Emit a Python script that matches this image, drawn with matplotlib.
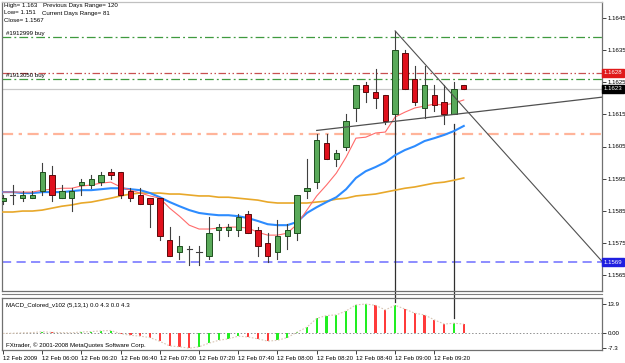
import matplotlib
matplotlib.use('Agg')
import matplotlib.pyplot as plt
import matplotlib.transforms as mtransforms
from matplotlib.patches import Rectangle
import numpy as np

# EURUSD M5, 12 Feb 2009, bar 0 = 05:40
opens = [1.1588, 1.1590, 1.1589, 1.1589, 1.1591, 1.1596, 1.1589, 1.1589, 1.1593, 1.1593,
         1.1594, 1.1597, 1.1597, 1.1591, 1.1590, 1.1589, 1.1589, 1.1576, 1.1572, 1.1573,
         1.1572, 1.1571, 1.1579, 1.1579, 1.1579, 1.1584, 1.1579, 1.1575, 1.1572, 1.1577,
         1.1578, 1.1591, 1.1594, 1.1606, 1.1601, 1.1605, 1.1617, 1.1624, 1.1622, 1.1621,
         1.1615, 1.1634, 1.1626, 1.1617, 1.1621, 1.1619, 1.1615, 1.1624]
highs = [1.1590, 1.1593, 1.1591, 1.1591, 1.1600, 1.1599, 1.1593, 1.1592, 1.1595, 1.1596,
         1.1597, 1.1598, 1.1597, 1.1592, 1.1592, 1.1589, 1.1589, 1.1580, 1.1577, 1.1574,
         1.1574, 1.1583, 1.1581, 1.1581, 1.1584, 1.1585, 1.1580, 1.1578, 1.1582, 1.1581,
         1.1590, 1.1601, 1.1609, 1.1609, 1.1604, 1.1615, 1.1624, 1.1625, 1.1629, 1.1621,
         1.1641, 1.1635, 1.1630, 1.1630, 1.1624, 1.1624, 1.1625, 1.1624]
lows = [1.1587, 1.1587, 1.1588, 1.1589, 1.1590, 1.1588, 1.1589, 1.1585, 1.1590, 1.1592,
        1.1593, 1.1595, 1.1589, 1.1588, 1.1587, 1.1580, 1.1576, 1.1571, 1.1570, 1.1568,
        1.1568, 1.1570, 1.1576, 1.1577, 1.1577, 1.1578, 1.1571, 1.1569, 1.1570, 1.1573,
        1.1576, 1.1589, 1.1592, 1.1601, 1.1599, 1.1604, 1.1613, 1.1619, 1.1617, 1.1612,
        1.1613, 1.1623, 1.1618, 1.1614, 1.1616, 1.1612, 1.1615, 1.1623]
closes = [1.1589, 1.1590, 1.1590, 1.1590, 1.1597, 1.1590, 1.1591, 1.1591, 1.1594, 1.1595,
          1.1596, 1.1596, 1.1590, 1.1589, 1.1587, 1.1587, 1.1577, 1.1571, 1.1574, 1.1573,
          1.1572, 1.1578, 1.1580, 1.1580, 1.1583, 1.1578, 1.1574, 1.1571, 1.1577, 1.1579,
          1.1590, 1.1592, 1.1607, 1.1601, 1.1603, 1.1613, 1.1624, 1.1622, 1.1620, 1.1613,
          1.1635, 1.1623, 1.1619, 1.1624, 1.1618, 1.1615, 1.1623, 1.1623]

# moving averages
ma_red = [1.15908, 1.15908, 1.15908, 1.15908, 1.15914, 1.15917, 1.15920, 1.15920, 1.15927, 1.15930,
          1.15936, 1.15939, 1.15924, 1.15914, 1.15905, 1.15896, 1.15889, 1.15858, 1.15833, 1.15805,
          1.15793, 1.15793, 1.15796, 1.15799, 1.15799, 1.15796, 1.15783, 1.15774, 1.15774, 1.15780,
          1.15808, 1.15852, 1.15896, 1.15930, 1.15967, 1.16017, 1.16076, 1.16079, 1.16092, 1.16095,
          1.16142, 1.16157, 1.16170, 1.16176, 1.16182, 1.16179, 1.16185, 1.16195]
ma_blue = [1.15908, 1.15908, 1.15905, 1.15905, 1.15908, 1.15908, 1.15908, 1.15911, 1.15914, 1.15914,
           1.15917, 1.15920, 1.15920, 1.15917, 1.15914, 1.15905, 1.15892, 1.15877, 1.15864, 1.15852,
           1.15843, 1.15839, 1.15836, 1.15836, 1.15833, 1.15827, 1.15818, 1.15808, 1.15805, 1.15805,
           1.15815, 1.15843, 1.15861, 1.15877, 1.15892, 1.15917, 1.15952, 1.15973, 1.15986, 1.16001,
           1.16023, 1.16039, 1.16051, 1.16067, 1.16076, 1.16086, 1.16098, 1.16114]
ma_orange = [1.15846, 1.15846, 1.15849, 1.15849, 1.15852, 1.15858, 1.15864, 1.15868, 1.15874, 1.15877,
             1.15883, 1.15889, 1.15896, 1.15902, 1.15905, 1.15905, 1.15905, 1.15902, 1.15902, 1.15899,
             1.15896, 1.15896, 1.15892, 1.15892, 1.15889, 1.15886, 1.15883, 1.15877, 1.15874, 1.15874,
             1.15874, 1.15874, 1.15877, 1.15880, 1.15886, 1.15889, 1.15896, 1.15899, 1.15902, 1.15908,
             1.15914, 1.15920, 1.15924, 1.15930, 1.15936, 1.15939, 1.15945, 1.15952]

# MACD_Colored histogram
macd = [-0.2, -0.1, 0.1, 0.2, 0.6, 0.3, 0.2, 0.1, 0.5, 0.7,
        1.0, 1.2, -0.3, -1.1, -1.5, -2.2, -4.0, -6.2, -6.6, -7.3,
        -6.6, -4.9, -3.5, -2.8, -1.5, -1.9, -2.8, -3.9, -3.5, -2.2,
        0.4, 2.8, 7.0, 8.4, 8.7, 10.6, 13.5, 13.9, 13.3, 11.1,
        13.3, 11.5, 9.5, 8.7, 6.3, 4.3, 4.7, 4.3]

date_pos = [0, 4, 8, 12, 16, 20, 24, 28, 32, 36, 40, 44]
date_labels = ['12 Feb 2009', '12 Feb 06:00', '12 Feb 06:20', '12 Feb 06:40',
               '12 Feb 07:00', '12 Feb 07:20', '12 Feb 07:40', '12 Feb 08:00',
               '12 Feb 08:20', '12 Feb 08:40', '12 Feb 09:00', '12 Feb 09:20']
price_ticks = [1.1645, 1.1635, 1.1625, 1.1615, 1.1605, 1.1595, 1.1585, 1.1575, 1.1565]
macd_ticks = [13.9, 0.0, -7.3]

buy1 = 1.1639
buy2 = 1.1626
ask = 1.1628
bid = 1.1623
stop_lvl = 1.1609
low_lvl = 1.1569
vlines_at = [40, 46]
trend_down = [(40, 1.1641), (61.2, 1.15689)]
trend_up = [(32, 1.1610), (61.2, 1.16204)]

plt.rcParams['font.family'] = ['Liberation Sans', 'DejaVu Sans']
fs = 4.4

W, H = 625, 363
fig = plt.figure(figsize=(W / 100, H / 100), dpi=100)
fig.patch.set_facecolor('white')
ax = fig.add_axes([2 / W, 1 - 291 / H, 600 / W, 289 / H])
ax2 = fig.add_axes([2 / W, 1 - 350 / H, 600 / W, 52 / H])
ax2.set_facecolor('none')

n = len(opens)
idx = np.arange(n)
bw = 0.55

# horizontal levels
ax.axhline(buy1, color='#3f9a3f', lw=0.9, dashes=(7, 2.5, 1.5, 2.5), zorder=1)
ax.axhline(buy2, color='#3f9a3f', lw=0.9, dashes=(7, 2.5, 1.5, 2.5), zorder=1)
ax.axhline(ask, color='#c85050', lw=0.9, dashes=(6, 2, 1.2, 2, 1.2, 2), zorder=1)
ax.axhline(bid, color='#c8c8c8', lw=0.9, zorder=1)
ax.axhline(stop_lvl, color='#ffb49a', lw=1.6, dashes=(5, 2.5, 1.5, 2.5), zorder=1)
ax.axhline(low_lvl, color='#6e6eff', lw=1.1, dashes=(6, 3.5), zorder=1)

# vertical lines down into the indicator window
ax.plot([vlines_at[0]] * 2, [lows[vlines_at[0]], 1.15565], color='#303030', lw=0.9,
        clip_on=False, zorder=2)
ax.plot([vlines_at[1]] * 2, [lows[vlines_at[1]] - 0.0003, 1.15515], color='#303030', lw=0.9,
        clip_on=False, zorder=2)

# moving averages
ax.plot(idx, ma_orange, color='#e8a82a', lw=1.2, zorder=3)
ax.plot(idx, ma_blue, color='#2d8cff', lw=1.5, zorder=3)
ax.plot(idx, ma_red, color='#ff6b6b', lw=0.8, zorder=3)

# candles
for i in range(n):
    o, h, l, c = opens[i], highs[i], lows[i], closes[i]
    ax.plot([i, i], [l, h], color='#404040', lw=0.8, zorder=4)
    if c > o:
        fc, ec = '#5aaa5a', '#1f4f1f'
    elif c < o:
        fc, ec = '#e0101c', '#5a0a0a'
    else:
        ax.plot([i - bw / 2, i + bw / 2], [o, o], color='#404040', lw=0.8, zorder=5)
        continue
    ax.add_patch(Rectangle((i - bw / 2, min(o, c)), bw, abs(c - o), facecolor=fc,
                           edgecolor=ec, lw=0.7, zorder=5))

# trend lines
ax.plot([trend_down[0][0], trend_down[1][0]], [trend_down[0][1], trend_down[1][1]],
        color='#505050', lw=0.8, zorder=6)
ax.plot([trend_up[0][0], trend_up[1][0]], [trend_up[0][1], trend_up[1][1]],
        color='#505050', lw=0.9, zorder=6)

ax.set_xlim(-0.1, 61.1)
ax.set_ylim(1.1560, 1.1650)
ax.set_xticks([])
ax.yaxis.tick_right()
ax.set_yticks(price_ticks)
ax.set_yticklabels(['%.4f' % p for p in price_ticks])
ax.tick_params(axis='y', length=3, width=0.6, labelsize=fs, pad=1.0, color='#202020')
for s in ax.spines.values():
    s.set_color('#707070')
    s.set_linewidth(0.9)
ax.spines['top'].set_color('#c0c0c0')

# price boxes on the right scale
tr = mtransforms.blended_transform_factory(ax.transAxes, ax.transData)
for val, bg in [(ask, '#e01a1a'), (bid, '#000000'), (low_lvl, '#1f1fe0')]:
    ax.text(1.003, val, '%.4f' % val, transform=tr, fontsize=fs, color='white', va='center',
            ha='left', zorder=10, clip_on=False,
            bbox=dict(boxstyle='square,pad=0.25', facecolor=bg, edgecolor=bg))

# object labels
ax.text(0.006, buy1 + 0.00003, '#1912999 buy', transform=tr, fontsize=fs, va='bottom')
ax.text(0.006, buy2 + 0.00003, '#1913050 buy', transform=tr, fontsize=fs, va='bottom')

# info block
fig.text(4 / W, 1 - 5 / H, 'High= 1.163', fontsize=fs, va='center')
fig.text(43 / W, 1 - 5 / H, 'Previous Days Range= 120', fontsize=fs, va='center')
fig.text(4 / W, 1 - 13 / H, 'Low= 1.151', fontsize=fs, va='center')
fig.text(42 / W, 1 - 13 / H, 'Current Days Range= 81', fontsize=fs, va='center')
fig.text(4 / W, 1 - 21 / H, 'Close= 1.1567', fontsize=fs, va='center')

# separator between windows
fig.add_artist(plt.Line2D([2 / W, 602 / W], [1 - 293.5 / H] * 2, color='#808080', lw=0.8))

# MACD window
cols = []
for i in range(n):
    prev = macd[i - 1] if i > 0 else 0.0
    cols.append('#22ee22' if macd[i] >= prev else '#ff3b3b')
ax2.axhline(0, color='#909090', lw=0.7, ls=(0, (1.5, 2)), zorder=1)
ax2.bar(idx, macd, width=0.22, color=cols, zorder=2)
ax2.plot(idx, macd, color='#d8c6b4', lw=0.8, ls=(0, (1.5, 1.5)), zorder=3)
ax2.set_xlim(-0.1, 61.1)
ax2.set_ylim(-8.15, 16.8)
ax2.yaxis.tick_right()
ax2.set_yticks(macd_ticks)
ax2.set_yticklabels(['13.9', '0.00', '-7.3'])
ax2.tick_params(axis='y', length=3, width=0.6, labelsize=fs, pad=1.0, color='#202020')
ax2.set_xticks(date_pos)
ax2.set_xticklabels(date_labels, ha='left')
ax2.tick_params(axis='x', length=3, width=0.6, labelsize=fs, pad=1.0, color='#202020')
for s in ax2.spines.values():
    s.set_color('#707070')
    s.set_linewidth(0.9)
ax2.text(0.006, 0.86, 'MACD_Colored_v102 (5,13,1) 0.0 4.3 0.0 4.3', transform=ax2.transAxes,
         fontsize=fs, va='center')
ax2.text(0.006, 0.1, 'FXtrader, \u00a9 2001-2008 MetaQuotes Software Corp.', transform=ax2.transAxes,
         fontsize=fs, va='center')

fig.savefig('out.png', dpi=100, facecolor='white')
